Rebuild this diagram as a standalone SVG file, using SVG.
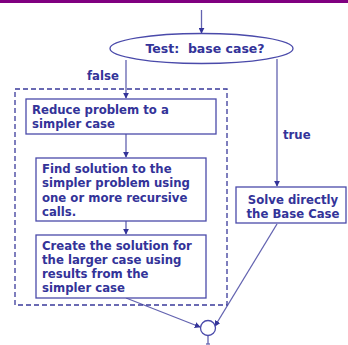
<svg xmlns="http://www.w3.org/2000/svg" width="348" height="345" viewBox="0 0 348 345">
<style>
text{font-family:"DejaVu Sans",Verdana,sans-serif;font-weight:bold;font-size:11.7px;fill:#333399}
.box{fill:#fff;stroke:#4a4aaa;stroke-width:1.3}
.ln{fill:none;stroke:#6363b0;stroke-width:1.3}
.dash{fill:none;stroke:#3a3a9a;stroke-width:1.3;stroke-dasharray:5,3}
</style>
<defs>
<marker id="ah" viewBox="0 0 8 8" refX="7" refY="4" markerWidth="6" markerHeight="6" orient="auto" markerUnits="userSpaceOnUse">
<path d="M0,0 L8,4 L0,8 z" fill="#333399"/>
</marker>
</defs>
<rect x="0" y="0" width="348" height="3" fill="#800080"/>
<g id="connectors">
<line class="ln" x1="201.5" y1="10" x2="201.5" y2="33" marker-end="url(#ah)"/>
<line class="ln" x1="126" y1="60" x2="126" y2="98" marker-end="url(#ah)"/>
<line class="ln" x1="277" y1="59" x2="277" y2="186" marker-end="url(#ah)"/>
<line class="ln" x1="126" y1="134" x2="126" y2="157" marker-end="url(#ah)"/>
<line class="ln" x1="126" y1="221" x2="126" y2="234" marker-end="url(#ah)"/>
<line class="ln" x1="126" y1="298" x2="200" y2="327" marker-end="url(#ah)"/>
<line class="ln" x1="277" y1="224" x2="215" y2="326" marker-end="url(#ah)"/>
<line class="ln" x1="208" y1="335.5" x2="208" y2="344"/>
<line class="ln" x1="206" y1="344" x2="210" y2="344"/>
<text x="87" y="80">false</text>
<text x="283" y="139">true</text>
</g>
<rect id="group" class="dash" x="15" y="89" width="212" height="216"/>
<g id="test">
<ellipse class="box" cx="201.5" cy="48.5" rx="91.5" ry="15"/>
<text x="205" y="53" text-anchor="middle" xml:space="preserve" style="font-size:12.5px">Test:  base case?</text>
</g>
<g id="reduce">
<rect class="box" x="26" y="99" width="190" height="35"/>
<text x="32" y="114">Reduce problem to a</text>
<text x="32" y="128">simpler case</text>
</g>
<g id="find">
<rect class="box" x="36" y="158" width="170" height="63"/>
<text x="42" y="173">Find solution to the</text>
<text x="42" y="187">simpler problem using</text>
<text x="42" y="202">one or more recursive</text>
<text x="42" y="216">calls.</text>
</g>
<g id="create">
<rect class="box" x="36" y="235" width="170" height="63"/>
<text x="42" y="250">Create the solution for</text>
<text x="42" y="264">the larger case using</text>
<text x="42" y="278">results from the</text>
<text x="42" y="292">simpler case</text>
</g>
<g id="solve">
<rect class="box" x="236" y="187" width="110" height="36"/>
<text x="293" y="204" text-anchor="middle">Solve directly</text>
<text x="293" y="218" text-anchor="middle">the Base Case</text>
</g>
<g id="join">
<circle class="box" cx="208" cy="328" r="7.5"/>
</g>
</svg>
